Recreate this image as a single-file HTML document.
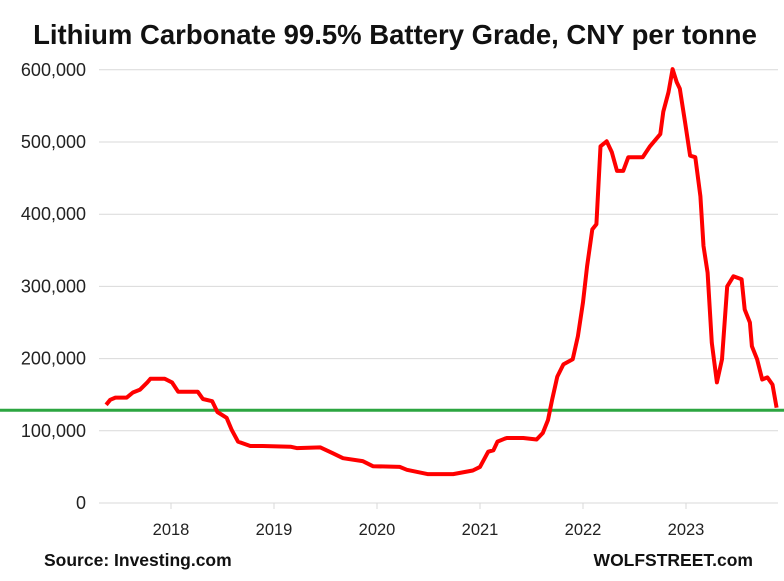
<!DOCTYPE html>
<html><head><meta charset="utf-8"><style>
body{margin:0;background:#fff;width:784px;height:581px;overflow:hidden;font-family:"Liberation Sans",sans-serif}
svg{display:block}
</style></head><body>
<svg id="chart" width="784" height="581">
<text x="395" y="44" text-anchor="middle" font-size="27.5" font-weight="bold" fill="#111">Lithium Carbonate 99.5% Battery Grade, CNY per tonne</text>
<g id="grid"></g><g id="ylabels"></g><g id="xaxis"></g>
<line id="ref" stroke="#2ca540" stroke-width="3"></line>
<path id="line" fill="none" stroke="#ff0000" stroke-width="4" stroke-linejoin="round"></path>
<text x="44" y="566" font-size="17.5" font-weight="bold" fill="#111">Source:  Investing.com</text>
<text x="753" y="566" text-anchor="end" font-size="17.5" font-weight="bold" fill="#111">WOLFSTREET.com</text>
</svg>
<script>
const yTicks=[0,100000,200000,300000,400000,500000,600000];
const yearLabels=[2018,2019,2020,2021,2022,2023];
const refValue=128500;
const dates=[2017.37,2017.41,2017.46,2017.57,2017.63,2017.70,2017.77,2017.80,2017.94,2018.01,2018.07,2018.26,2018.31,2018.40,2018.45,2018.54,2018.59,2018.65,2018.77,2018.89,2019.16,2019.22,2019.45,2019.57,2019.67,2019.86,2019.96,2020.22,2020.29,2020.49,2020.74,2020.93,2021.00,2021.08,2021.13,2021.17,2021.24,2021.26,2021.42,2021.55,2021.61,2021.66,2021.70,2021.75,2021.81,2021.90,2021.95,2022.00,2022.04,2022.09,2022.13,2022.17,2022.23,2022.28,2022.33,2022.39,2022.44,2022.58,2022.65,2022.75,2022.78,2022.83,2022.87,2022.91,2022.94,2022.99,2023.04,2023.09,2023.14,2023.17,2023.21,2023.25,2023.30,2023.35,2023.40,2023.46,2023.54,2023.57,2023.62,2023.64,2023.69,2023.74,2023.79,2023.84,2023.88];
const prices=[136,143,146,146,153,157,167,172,172,167,154,154,144,141,126,118,101,85,79,79,78,76,77,69,62,58,51,50,46,40,40,45,50,71,73,85,89,90,90,88,97,115,143,175,192,199,231,278,328,379,386,494,501,486,460,460,479,479,494,511,542,569,601,583,574,528,481,479,425,356,319,222,167,199,300,314,310,268,250,217,199,171,174,164,132];
const X=y=>171+(y-2018)*103;
const Y=v=>503-v*0.000722;
const ns="http://www.w3.org/2000/svg";
const g=document.getElementById('grid'),yl=document.getElementById('ylabels'),xa=document.getElementById('xaxis');
yTicks.forEach(t=>{
 const l=document.createElementNS(ns,'line');
 l.setAttribute('x1',99);l.setAttribute('x2',778);l.setAttribute('y1',Y(t));l.setAttribute('y2',Y(t));
 l.setAttribute('stroke','#d9d9d9');l.setAttribute('stroke-width',1);
 
 
 g.appendChild(l);
 const tx=document.createElementNS(ns,'text');
 tx.setAttribute('x',86);tx.setAttribute('y',Y(t)+6);tx.setAttribute('text-anchor','end');
 tx.setAttribute('font-size','18');tx.setAttribute('fill','#222');
 tx.textContent=t.toLocaleString('en-US');
 
 
 yl.appendChild(tx);
});
yearLabels.forEach(yr=>{
 const l=document.createElementNS(ns,'line');
 l.setAttribute('x1',X(yr));l.setAttribute('x2',X(yr));l.setAttribute('y1',503);l.setAttribute('y2',509);
 l.setAttribute('stroke','#d9d9d9');
 
 
 xa.appendChild(l);
 const tx=document.createElementNS(ns,'text');
 tx.setAttribute('x',X(yr));tx.setAttribute('y',535);tx.setAttribute('text-anchor','middle');
 tx.setAttribute('font-size','16.5');tx.setAttribute('fill','#222');
 tx.textContent=yr;
 
 
 xa.appendChild(tx);
});
const r=document.getElementById('ref');
r.setAttribute('x1',0);r.setAttribute('x2',784);r.setAttribute('y1',Y(refValue));r.setAttribute('y2',Y(refValue));
document.getElementById('line').setAttribute('d',dates.map((d,i)=>(i?'L':'M')+X(d).toFixed(1)+','+Y(prices[i]*1000).toFixed(1)).join(''));
</script>
</body></html>
